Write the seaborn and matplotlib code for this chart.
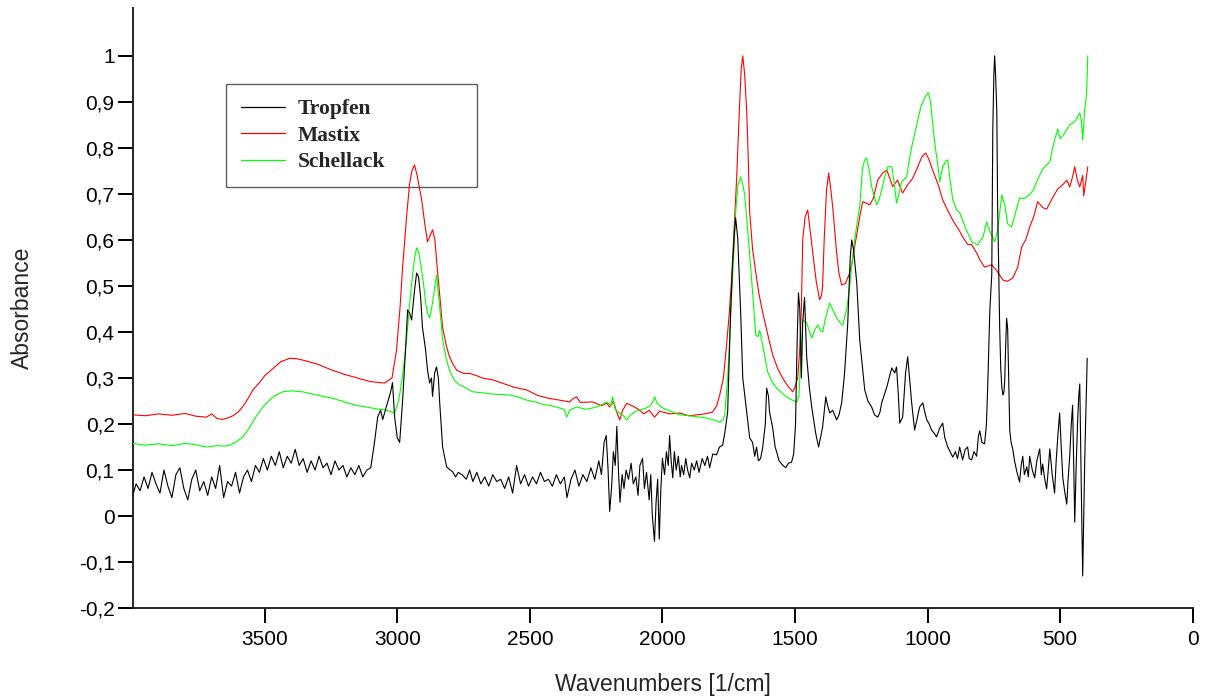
import numpy as np
import pandas as pd
import matplotlib
matplotlib.use("Agg")
import matplotlib.pyplot as plt
from matplotlib.ticker import FuncFormatter, FixedLocator
from matplotlib.lines import Line2D
import seaborn as sns

# Tropfen (black)
tropfen_wn = [4000, 3985, 3970, 3955, 3940, 3925, 3910, 3895, 3880, 3865, 3850, 3835, 3820, 3805, 3790,
              3775, 3760, 3745, 3730, 3715, 3700, 3685, 3670, 3655, 3640, 3625, 3610, 3595, 3580, 3565,
              3550, 3535, 3520, 3505, 3490, 3475, 3460, 3445, 3430, 3415, 3400, 3385, 3370, 3355, 3340,
              3325, 3310, 3295, 3280, 3265, 3250, 3235, 3220, 3205, 3190, 3175, 3160, 3145, 3130, 3115,
              3100, 3086, 3074, 3063, 3055, 3040, 3025, 3018, 3010, 3000, 2991, 2980, 2969, 2961, 2953,
              2946, 2935, 2927, 2920, 2912, 2905, 2893, 2886, 2878, 2871, 2867, 2859, 2852, 2845, 2840,
              2829, 2814, 2800, 2791, 2780, 2770, 2754, 2740, 2727, 2715, 2700, 2685, 2670, 2655, 2640,
              2625, 2610, 2595, 2580, 2565, 2550, 2535, 2520, 2505, 2490, 2475, 2460, 2445, 2430, 2415,
              2400, 2385, 2370, 2360, 2345, 2330, 2315, 2300, 2285, 2270, 2255, 2240, 2230, 2220, 2212,
              2205, 2199, 2192, 2185, 2178, 2172, 2166, 2160, 2152, 2145, 2137, 2128, 2118, 2110, 2100,
              2092, 2085, 2075, 2068, 2060, 2050, 2044, 2038, 2030, 2024, 2018, 2012, 2006, 2000, 1992,
              1985, 1978, 1973, 1967, 1961, 1955, 1948, 1940, 1933, 1928, 1920, 1912, 1905, 1897, 1890,
              1880, 1871, 1862, 1850, 1840, 1830, 1822, 1810, 1796, 1785, 1773, 1765, 1754, 1743, 1735,
              1728, 1724, 1716, 1705, 1697, 1682, 1671, 1660, 1652, 1645, 1638, 1630, 1622, 1612, 1607,
              1600, 1596, 1584, 1575, 1569, 1560, 1547, 1535, 1525, 1513, 1505, 1498, 1492, 1487, 1482,
              1476, 1471, 1464, 1456, 1446, 1437, 1422, 1411, 1404, 1396, 1384, 1377, 1369, 1358, 1343,
              1334, 1324, 1313, 1301, 1292, 1286, 1279, 1267, 1256, 1237, 1225, 1211, 1200, 1188, 1180,
              1173, 1154, 1145, 1135, 1124, 1117, 1110, 1105, 1094, 1083, 1075, 1068, 1060, 1049, 1040,
              1030, 1018, 1010, 1003, 994, 985, 975, 966, 955, 943, 935, 924, 915, 905, 895,
              887, 879, 868, 858, 849, 843, 834, 825, 815, 808, 803, 795, 785, 778, 773,
              765, 758, 754, 750, 747, 743, 739, 736, 732, 728, 724, 720, 716, 712, 709,
              705, 702, 698, 694, 690, 685, 679, 672, 664, 658, 653, 647, 641, 635, 626,
              620, 615, 605, 596, 588, 577, 571, 566, 558, 551, 545, 539, 530, 521, 515,
              508, 502, 496, 490, 482, 475, 470, 464, 458, 453, 449, 445, 440, 434, 430,
              426, 420, 415, 411, 407, 402, 398]
tropfen_abs = [0.04, 0.07, 0.055, 0.085, 0.06, 0.095, 0.07, 0.05, 0.1, 0.065, 0.04, 0.09, 0.105, 0.06, 0.035,
               0.08, 0.1, 0.055, 0.075, 0.045, 0.085, 0.06, 0.11, 0.04, 0.075, 0.065, 0.095, 0.05, 0.085, 0.1,
               0.075, 0.11, 0.095, 0.125, 0.1, 0.13, 0.11, 0.14, 0.105, 0.13, 0.115, 0.145, 0.11, 0.125, 0.095,
               0.12, 0.1, 0.13, 0.105, 0.115, 0.09, 0.12, 0.1, 0.11, 0.085, 0.105, 0.09, 0.11, 0.085, 0.1,
               0.105, 0.16, 0.215, 0.23, 0.21, 0.24, 0.27, 0.29, 0.215, 0.17, 0.16, 0.25, 0.36, 0.448, 0.44,
               0.426, 0.49, 0.528, 0.52, 0.476, 0.41, 0.36, 0.317, 0.289, 0.3, 0.26, 0.311, 0.324, 0.3, 0.246,
               0.15, 0.107, 0.1, 0.096, 0.085, 0.095, 0.089, 0.08, 0.1, 0.075, 0.095, 0.07, 0.085, 0.065, 0.09,
               0.075, 0.08, 0.06, 0.085, 0.05, 0.11, 0.07, 0.09, 0.065, 0.085, 0.07, 0.095, 0.075, 0.08, 0.065,
               0.09, 0.07, 0.085, 0.04, 0.08, 0.1, 0.065, 0.09, 0.075, 0.105, 0.08, 0.12, 0.09, 0.16, 0.175,
               0.1, 0.01, 0.06, 0.14, 0.11, 0.195, 0.1, 0.03, 0.09, 0.06, 0.1, 0.08, 0.115, 0.07, 0.085,
               0.045, 0.11, 0.125, 0.06, 0.095, 0.035, 0.09, 0.0, -0.055, 0.03, 0.08, -0.05, 0.06, 0.125, 0.09,
               0.14, 0.11, 0.175, 0.12, 0.083, 0.14, 0.1, 0.13, 0.085, 0.11, 0.09, 0.125, 0.1, 0.083, 0.115,
               0.1, 0.12, 0.095, 0.125, 0.11, 0.13, 0.105, 0.135, 0.133, 0.15, 0.154, 0.18, 0.226, 0.443, 0.552,
               0.62, 0.648, 0.604, 0.443, 0.3, 0.226, 0.17, 0.16, 0.13, 0.15, 0.12, 0.125, 0.148, 0.2, 0.278,
               0.26, 0.226, 0.191, 0.15, 0.139, 0.12, 0.111, 0.105, 0.115, 0.117, 0.135, 0.2, 0.38, 0.485, 0.45,
               0.3, 0.42, 0.475, 0.346, 0.28, 0.237, 0.18, 0.15, 0.17, 0.193, 0.259, 0.24, 0.224, 0.23, 0.209,
               0.22, 0.246, 0.311, 0.42, 0.56, 0.6, 0.578, 0.506, 0.383, 0.274, 0.25, 0.237, 0.22, 0.215, 0.225,
               0.246, 0.28, 0.3, 0.322, 0.311, 0.324, 0.26, 0.202, 0.215, 0.311, 0.346, 0.3, 0.246, 0.187, 0.21,
               0.237, 0.246, 0.225, 0.209, 0.2, 0.187, 0.18, 0.172, 0.19, 0.202, 0.17, 0.15, 0.14, 0.128, 0.14,
               0.125, 0.15, 0.122, 0.145, 0.15, 0.125, 0.122, 0.14, 0.13, 0.175, 0.185, 0.16, 0.157, 0.2, 0.287,
               0.45, 0.524, 0.84, 0.96, 1.0, 0.95, 0.88, 0.683, 0.55, 0.407, 0.32, 0.28, 0.263, 0.27, 0.296,
               0.38, 0.43, 0.407, 0.3, 0.185, 0.16, 0.146, 0.12, 0.098, 0.085, 0.074, 0.11, 0.13, 0.09, 0.107,
               0.085, 0.13, 0.1, 0.083, 0.12, 0.146, 0.09, 0.113, 0.08, 0.059, 0.1, 0.146, 0.09, 0.05, 0.12,
               0.18, 0.224, 0.15, 0.083, 0.05, 0.026, 0.08, 0.13, 0.2, 0.241, 0.12, -0.013, 0.1, 0.209, 0.26,
               0.287, 0.05, -0.13, 0.0, 0.13, 0.25, 0.343]

# Mastix (red)
mastix_wn = [4000, 3950, 3900, 3850, 3800, 3760, 3720, 3700, 3680, 3660, 3640, 3620, 3600, 3580, 3560,
             3545, 3520, 3500, 3470, 3440, 3406, 3380, 3350, 3300, 3250, 3200, 3150, 3100, 3048, 3020,
             3003, 2990, 2980, 2965, 2954, 2945, 2935, 2925, 2908, 2895, 2886, 2876, 2867, 2858, 2852,
             2840, 2829, 2815, 2803, 2790, 2776, 2750, 2727, 2700, 2680, 2640, 2600, 2560, 2512, 2470,
             2430, 2388, 2350, 2335, 2324, 2310, 2263, 2230, 2210, 2199, 2185, 2175, 2161, 2150, 2135,
             2112, 2090, 2070, 2050, 2030, 2010, 1999, 1970, 1935, 1900, 1871, 1840, 1811, 1795, 1784,
             1770, 1758, 1748, 1739, 1730, 1720, 1710, 1703, 1697, 1690, 1682, 1676, 1671, 1660, 1645,
             1635, 1622, 1605, 1584, 1565, 1547, 1530, 1509, 1500, 1490, 1483, 1476, 1471, 1462, 1452,
             1443, 1433, 1420, 1407, 1400, 1396, 1390, 1381, 1373, 1365, 1358, 1343, 1335, 1324, 1310,
             1294, 1285, 1275, 1256, 1245, 1232, 1218, 1205, 1188, 1170, 1154, 1140, 1132, 1113, 1100,
             1094, 1075, 1056, 1040, 1022, 1007, 995, 981, 960, 943, 925, 905, 880, 868, 849,
             834, 815, 803, 785, 758, 739, 716, 700, 679, 660, 645, 630, 615, 600, 585,
             565, 551, 530, 509, 490, 475, 464, 452, 445, 435, 426, 415, 411, 405, 396]
mastix_abs = [0.22, 0.218, 0.222, 0.219, 0.223, 0.217, 0.215, 0.222, 0.212, 0.21, 0.213, 0.218, 0.226, 0.24, 0.258,
              0.274, 0.29, 0.305, 0.32, 0.335, 0.343, 0.342, 0.338, 0.33, 0.318, 0.308, 0.3, 0.292, 0.289, 0.3,
              0.36, 0.45, 0.54, 0.65, 0.72, 0.75, 0.763, 0.74, 0.687, 0.63, 0.596, 0.61, 0.622, 0.6, 0.557,
              0.48, 0.41, 0.37, 0.346, 0.33, 0.317, 0.31, 0.31, 0.305, 0.3, 0.296, 0.288, 0.28, 0.274, 0.262,
              0.256, 0.252, 0.248, 0.256, 0.259, 0.247, 0.248, 0.24, 0.245, 0.237, 0.25, 0.23, 0.209, 0.23, 0.245,
              0.239, 0.232, 0.222, 0.23, 0.215, 0.228, 0.226, 0.222, 0.224, 0.218, 0.22, 0.222, 0.226, 0.24, 0.263,
              0.3, 0.372, 0.44, 0.517, 0.62, 0.735, 0.88, 0.97, 1.0, 0.96, 0.878, 0.77, 0.66, 0.58, 0.517,
              0.48, 0.443, 0.4, 0.35, 0.32, 0.3, 0.285, 0.27, 0.28, 0.3, 0.354, 0.45, 0.6, 0.65, 0.665,
              0.62, 0.572, 0.51, 0.47, 0.48, 0.498, 0.6, 0.709, 0.745, 0.71, 0.672, 0.572, 0.53, 0.502, 0.505,
              0.528, 0.55, 0.585, 0.65, 0.683, 0.68, 0.676, 0.69, 0.73, 0.745, 0.752, 0.73, 0.716, 0.73, 0.71,
              0.702, 0.72, 0.734, 0.755, 0.78, 0.789, 0.775, 0.752, 0.72, 0.687, 0.665, 0.643, 0.62, 0.607, 0.59,
              0.59, 0.572, 0.557, 0.541, 0.546, 0.533, 0.513, 0.51, 0.517, 0.541, 0.585, 0.6, 0.628, 0.65, 0.683,
              0.67, 0.667, 0.69, 0.711, 0.72, 0.73, 0.715, 0.74, 0.759, 0.73, 0.715, 0.74, 0.696, 0.72, 0.759]

# Schellack (green)
schellack_wn = [4000, 3950, 3900, 3850, 3800, 3760, 3720, 3680, 3650, 3633, 3610, 3583, 3560, 3534, 3510,
                3482, 3460, 3433, 3400, 3357, 3320, 3280, 3244, 3200, 3150, 3117, 3080, 3040, 3010, 2995,
                2984, 2975, 2965, 2955, 2946, 2935, 2927, 2918, 2908, 2900, 2893, 2885, 2878, 2867, 2858,
                2852, 2846, 2840, 2829, 2815, 2803, 2785, 2765, 2740, 2716, 2680, 2640, 2576, 2540, 2512,
                2480, 2452, 2420, 2388, 2370, 2361, 2350, 2324, 2290, 2263, 2235, 2210, 2195, 2188, 2180,
                2169, 2150, 2135, 2120, 2100, 2086, 2060, 2045, 2035, 2029, 2020, 2010, 1999, 1970, 1935,
                1900, 1860, 1833, 1800, 1784, 1770, 1765, 1754, 1745, 1739, 1730, 1724, 1715, 1705, 1695,
                1690, 1679, 1664, 1648, 1640, 1633, 1622, 1603, 1585, 1569, 1550, 1532, 1510, 1494, 1485,
                1478, 1471, 1456, 1445, 1437, 1425, 1414, 1405, 1396, 1385, 1369, 1355, 1343, 1330, 1320,
                1305, 1294, 1285, 1275, 1265, 1256, 1245, 1236, 1230, 1220, 1211, 1192, 1182, 1173, 1160,
                1150, 1135, 1125, 1117, 1108, 1098, 1079, 1070, 1060, 1041, 1025, 1010, 998, 990, 982,
                973, 963, 954, 943, 930, 924, 915, 905, 890, 879, 868, 853, 841, 834, 811,
                800, 792, 777, 766, 747, 736, 728, 720, 709, 698, 683, 668, 653, 635, 615,
                600, 589, 566, 539, 528, 509, 500, 490, 475, 464, 445, 426, 420, 415, 408,
                400, 396]
schellack_abs = [0.158, 0.154, 0.157, 0.153, 0.158, 0.155, 0.15, 0.153, 0.152, 0.154, 0.16, 0.172, 0.19, 0.215, 0.235,
                 0.252, 0.262, 0.27, 0.272, 0.27, 0.265, 0.26, 0.256, 0.248, 0.24, 0.237, 0.233, 0.23, 0.224, 0.25,
                 0.289, 0.33, 0.383, 0.45, 0.506, 0.56, 0.583, 0.57, 0.535, 0.5, 0.463, 0.44, 0.43, 0.463, 0.5,
                 0.524, 0.49, 0.454, 0.383, 0.34, 0.317, 0.295, 0.285, 0.278, 0.27, 0.268, 0.265, 0.263, 0.258, 0.252,
                 0.248, 0.243, 0.24, 0.235, 0.232, 0.215, 0.23, 0.237, 0.232, 0.235, 0.24, 0.248, 0.24, 0.259, 0.235,
                 0.226, 0.22, 0.209, 0.22, 0.228, 0.23, 0.235, 0.24, 0.25, 0.259, 0.245, 0.24, 0.235, 0.228, 0.22,
                 0.218, 0.215, 0.213, 0.208, 0.204, 0.21, 0.22, 0.3, 0.4, 0.48, 0.58, 0.66, 0.72, 0.737, 0.715,
                 0.698, 0.626, 0.517, 0.393, 0.39, 0.404, 0.372, 0.313, 0.29, 0.278, 0.268, 0.259, 0.252, 0.248, 0.26,
                 0.35, 0.426, 0.42, 0.4, 0.387, 0.405, 0.415, 0.405, 0.4, 0.43, 0.463, 0.445, 0.43, 0.42, 0.415,
                 0.45, 0.498, 0.55, 0.6, 0.64, 0.672, 0.759, 0.775, 0.778, 0.75, 0.716, 0.676, 0.69, 0.709, 0.74,
                 0.759, 0.759, 0.72, 0.68, 0.7, 0.726, 0.737, 0.77, 0.802, 0.85, 0.89, 0.91, 0.92, 0.905, 0.86,
                 0.81, 0.77, 0.726, 0.759, 0.772, 0.774, 0.73, 0.687, 0.665, 0.659, 0.643, 0.62, 0.607, 0.596, 0.589,
                 0.6, 0.604, 0.639, 0.62, 0.596, 0.62, 0.66, 0.698, 0.676, 0.635, 0.628, 0.66, 0.691, 0.69, 0.698,
                 0.71, 0.726, 0.754, 0.77, 0.802, 0.841, 0.82, 0.826, 0.84, 0.85, 0.857, 0.876, 0.86, 0.817, 0.88,
                 0.92, 1.0]

labels = ["Tropfen", "Mastix", "Schellack"]
colors = {"Tropfen": "#000000", "Mastix": "#ff0000", "Schellack": "#00ff00"}
x_ticks = [3500, 3000, 2500, 2000, 1500, 1000, 500, 0]
y_ticks = [-0.2, -0.1, 0.0, 0.1, 0.2, 0.3, 0.4, 0.5, 0.6, 0.7, 0.8, 0.9, 1.0]

df = pd.concat([
    pd.DataFrame({"wn": tropfen_wn, "absorbance": tropfen_abs, "sample": "Tropfen"}),
    pd.DataFrame({"wn": mastix_wn, "absorbance": mastix_abs, "sample": "Mastix"}),
    pd.DataFrame({"wn": schellack_wn, "absorbance": schellack_abs, "sample": "Schellack"}),
], ignore_index=True)

sns.set_style("ticks")
plt.rcParams["font.family"] = ["Liberation Sans", "DejaVu Sans"]

fig, ax = plt.subplots(figsize=(12.06, 6.99), dpi=100)
fig.subplots_adjust(left=0.110, right=0.989, bottom=0.130, top=0.9886)

sns.lineplot(data=df, x="wn", y="absorbance", hue="sample",
             hue_order=["Mastix", "Schellack", "Tropfen"], palette=colors,
             estimator=None, sort=False, linewidth=0.8, ax=ax, legend=False, zorder=3)

ax.set_xlim(3998, 0)
ax.set_ylim(-0.2, 1.104)
ax.xaxis.set_major_locator(FixedLocator(x_ticks))
ax.yaxis.set_major_locator(FixedLocator(y_ticks))
ax.yaxis.set_major_formatter(FuncFormatter(lambda v, p: f"{round(v, 2):g}".replace(".", ",")))

for s in ["top", "right"]:
    ax.spines[s].set_visible(False)
for s in ["left", "bottom"]:
    ax.spines[s].set_linewidth(1.4)
ax.tick_params(direction="out", length=11, width=1.4, pad=2, labelsize=15, colors="black")
ax.tick_params(axis="x", pad=5)

ax.set_xlabel("Wavenumbers [1/cm]", fontsize=16.5)
ax.set_ylabel("Absorbance", fontsize=16.5)
ax.xaxis.set_label_coords(0.5, -0.108)
ax.yaxis.set_label_coords(-0.093, 0.5)

handles = [Line2D([], [], color=colors[l], linewidth=0.9) for l in labels]
leg = ax.legend(handles, labels, loc="upper left",
                bbox_to_anchor=(0.0877, 0.873, 0.237, 0.0), mode="expand", borderaxespad=0,
                frameon=True, fancybox=False, facecolor="none", edgecolor="#333333",
                handlelength=2.05, handletextpad=0.6, labelspacing=0.3, borderpad=0.7,
                prop={"family": "Liberation Serif", "weight": "bold", "size": 15.5})
leg.get_frame().set_linewidth(1.0)
leg.set_zorder(1)

fig.savefig("out.png", dpi=100)
